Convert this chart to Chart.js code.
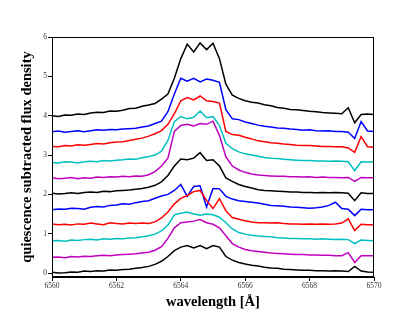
<!DOCTYPE html>
<html>
<head>
<meta charset="utf-8">
<script src="https://cdn.jsdelivr.net/npm/chart.js@4.4.1/dist/chart.umd.min.js"></script>
<style>
  html, body { margin: 0; padding: 0; background: #fff; }
  #wrap { width: 415px; height: 311px; }
</style>
</head>
<body>
<div id="wrap"><canvas id="specChart"></canvas></div>
<script>
  'use strict';

  // wavelength grid (Angstrom)
  var wavelength = [
    6560.0, 6560.2, 6560.4, 6560.6, 6560.8, 6561.0, 6561.2, 6561.4, 6561.6, 6561.8,
    6562.0, 6562.2, 6562.4, 6562.6, 6562.8, 6563.0, 6563.2, 6563.4, 6563.6, 6563.8,
    6564.0, 6564.2, 6564.4, 6564.6, 6564.8, 6565.0, 6565.2, 6565.4, 6565.6, 6565.8,
    6566.0, 6566.2, 6566.4, 6566.6, 6566.8, 6567.0, 6567.2, 6567.4, 6567.6, 6567.8,
    6568.0, 6568.2, 6568.4, 6568.6, 6568.8, 6569.0, 6569.2, 6569.4, 6569.6, 6569.8,
    6570.0
  ];

  // spectra, already shifted up by 0.4 each (bottom to top)
  var flux00 = [0.02, 0.00, 0.01, 0.03, 0.02, 0.05, 0.04, 0.06, 0.05, 0.08, 0.07, 0.09, 0.10, 0.12, 0.14,
    0.17, 0.22, 0.30, 0.42, 0.57, 0.66, 0.70, 0.64, 0.70, 0.62, 0.70, 0.66, 0.42, 0.33, 0.27,
    0.23, 0.20, 0.18, 0.15, 0.13, 0.12, 0.10, 0.09, 0.08, 0.07, 0.07, 0.06, 0.06, 0.05, 0.06,
    0.05, 0.04, 0.17, 0.05, 0.03, 0.02];
  var flux04 = [0.40, 0.41, 0.39, 0.42, 0.41, 0.43, 0.42, 0.44, 0.45, 0.44, 0.46, 0.47, 0.48, 0.49, 0.51,
    0.53, 0.58, 0.67, 0.88, 1.15, 1.28, 1.30, 1.32, 1.36, 1.28, 1.24, 1.15, 0.95, 0.75, 0.66,
    0.60, 0.57, 0.55, 0.53, 0.51, 0.50, 0.49, 0.48, 0.47, 0.47, 0.46, 0.46, 0.45, 0.45, 0.44,
    0.44, 0.52, 0.27, 0.44, 0.44, 0.44];
  var flux08 = [0.82, 0.83, 0.81, 0.84, 0.83, 0.85, 0.86, 0.84, 0.87, 0.86, 0.88, 0.87, 0.89, 0.90, 0.92,
    0.95, 0.99, 1.07, 1.22, 1.48, 1.52, 1.55, 1.50, 1.47, 1.50, 1.48, 1.42, 1.28, 1.12, 1.03,
    0.99, 0.96, 0.94, 0.93, 0.92, 0.90, 0.89, 0.88, 0.88, 0.87, 0.87, 0.86, 0.87, 0.86, 0.85,
    0.86, 0.85, 0.75, 0.84, 0.83, 0.82];
  var flux12 = [1.25, 1.23, 1.24, 1.22, 1.25, 1.24, 1.27, 1.25, 1.23, 1.28, 1.26, 1.25, 1.27, 1.26, 1.27,
    1.26, 1.30, 1.40, 1.55, 1.76, 1.90, 1.97, 2.07, 2.10, 1.84, 1.64, 1.89, 1.58, 1.41, 1.37,
    1.33, 1.30, 1.28, 1.28, 1.27, 1.28, 1.26, 1.25, 1.25, 1.24, 1.25, 1.24, 1.25, 1.24, 1.25,
    1.27, 1.38, 1.08, 1.24, 1.23, 1.23];
  var flux16 = [1.61, 1.63, 1.62, 1.65, 1.64, 1.62, 1.67, 1.69, 1.68, 1.72, 1.73, 1.76, 1.75, 1.79, 1.82,
    1.84, 1.90, 1.96, 2.00, 2.10, 2.25, 1.95, 2.20, 2.22, 1.68, 2.15, 2.14, 1.95, 1.88, 1.84,
    1.82, 1.80, 1.78, 1.75, 1.72, 1.71, 1.70, 1.68, 1.67, 1.66, 1.65, 1.66, 1.68, 1.72, 1.80,
    1.64, 1.62, 1.46, 1.62, 1.61, 1.61];
  var flux20 = [2.03, 2.01, 2.02, 2.04, 2.02, 2.05, 2.06, 2.05, 2.08, 2.07, 2.09, 2.10, 2.11, 2.13, 2.15,
    2.18, 2.23, 2.32, 2.48, 2.72, 2.90, 2.88, 2.92, 3.06, 2.86, 2.88, 2.72, 2.42, 2.33, 2.25,
    2.20, 2.16, 2.12, 2.10, 2.09, 2.08, 2.07, 2.06, 2.06, 2.05, 2.05, 2.04, 2.05, 2.04, 2.05,
    2.04, 2.03, 1.84, 2.04, 2.02, 2.02];
  var flux24 = [2.42, 2.40, 2.41, 2.43, 2.40, 2.42, 2.41, 2.44, 2.43, 2.45, 2.44, 2.46, 2.45, 2.47, 2.46,
    2.50, 2.58, 2.72, 2.92, 3.60, 3.75, 3.78, 3.74, 3.80, 3.78, 3.86, 3.50, 2.95, 2.72, 2.62,
    2.56, 2.52, 2.49, 2.48, 2.47, 2.46, 2.46, 2.45, 2.45, 2.44, 2.45, 2.43, 2.44, 2.43, 2.43,
    2.42, 2.43, 2.33, 2.43, 2.42, 2.42];
  var flux28 = [2.81, 2.80, 2.83, 2.82, 2.80, 2.83, 2.84, 2.83, 2.86, 2.85, 2.87, 2.88, 2.90, 2.89, 2.93,
    2.96, 3.00, 3.10, 3.37, 3.85, 3.98, 3.92, 3.96, 4.12, 3.95, 3.98, 3.75, 3.30, 3.16, 3.08,
    3.03, 3.00, 2.97, 2.94, 2.92, 2.91, 2.89, 2.88, 2.87, 2.86, 2.86, 2.85, 2.85, 2.84, 2.85,
    2.84, 2.83, 2.60, 2.83, 2.82, 2.83];
  var flux32 = [3.22, 3.21, 3.24, 3.23, 3.26, 3.25, 3.27, 3.29, 3.28, 3.31, 3.33, 3.34, 3.37, 3.40, 3.43,
    3.48, 3.54, 3.62, 3.78, 4.05, 4.38, 4.46, 4.40, 4.50, 4.38, 4.36, 4.32, 3.60, 3.52, 3.50,
    3.45, 3.41, 3.36, 3.34, 3.31, 3.30, 3.28, 3.27, 3.25, 3.24, 3.24, 3.23, 3.22, 3.22, 3.21,
    3.21, 3.18, 3.07, 3.47, 3.21, 3.20];
  var flux36 = [3.59, 3.61, 3.58, 3.60, 3.62, 3.59, 3.62, 3.64, 3.63, 3.65, 3.64, 3.66, 3.67, 3.68, 3.71,
    3.74, 3.80, 3.86, 4.10, 4.55, 4.95, 4.88, 4.95, 4.86, 4.93, 4.90, 4.85, 4.15, 3.92, 3.90,
    3.84, 3.80, 3.76, 3.73, 3.71, 3.69, 3.68, 3.66, 3.65, 3.63, 3.64, 3.62, 3.61, 3.62, 3.60,
    3.60, 3.58, 3.42, 3.85, 3.61, 3.60];
  var flux40 = [4.00, 3.98, 4.02, 4.01, 4.04, 4.03, 4.07, 4.09, 4.08, 4.12, 4.11, 4.14, 4.18, 4.19, 4.24,
    4.27, 4.31, 4.42, 4.55, 4.95, 5.45, 5.82, 5.62, 5.85, 5.68, 5.84, 5.45, 4.80, 4.52, 4.44,
    4.38, 4.34, 4.32, 4.28, 4.25, 4.21, 4.19, 4.16, 4.15, 4.13, 4.11, 4.10, 4.08, 4.07, 4.06,
    4.05, 4.20, 3.82, 4.03, 4.04, 4.03];

  var allFlux = [flux00, flux04, flux08, flux12, flux16, flux20, flux24, flux28, flux32, flux36, flux40];
  var lineColors = ['#000000', '#bf00bf', '#00bfbf', '#ff0000', '#0000ff',
                    '#000000', '#bf00bf', '#00bfbf', '#ff0000', '#0000ff', '#000000'];
  var xTicks = [6560, 6562, 6564, 6566, 6568, 6570];
  var yTicks = [0, 1, 2, 3, 4, 5, 6];

  var datasets = [];
  for (var i = 0; i < allFlux.length; i++) {
    var pts = [];
    for (var j = 0; j < wavelength.length; j++) {
      pts.push({ x: wavelength[j], y: allFlux[i][j] });
    }
    datasets.push({
      data: pts,
      borderColor: lineColors[i],
      borderWidth: 1.5,
      pointRadius: 0,
      fill: false,
      tension: 0
    });
  }

  // black box around the plot area
  var frameBox = {
    id: 'frameBox',
    afterDraw: function (chart) {
      var a = chart.chartArea, c = chart.ctx;
      c.save();
      c.strokeStyle = '#000';
      c.lineWidth = 1;
      c.strokeRect(Math.round(a.left) + 0.5, Math.round(a.top) + 0.5,
                   Math.round(a.right - a.left) - 1, Math.round(a.bottom - a.top) - 1);
      c.restore();
    }
  };

  var tickFont = { family: 'Liberation Serif', size: 7.5 };
  var titleFont = { family: 'Liberation Serif', size: 14.5, weight: 'bold' };
  var plainLabel = function (v) { return String(v); };

  new Chart(document.getElementById('specChart').getContext('2d'), {
    type: 'line',
    data: { datasets: datasets },
    options: {
      responsive: true,
      maintainAspectRatio: false,
      animation: false,
      layout: { padding: { top: 37, right: 41, left: 0, bottom: 0 } },
      plugins: { legend: { display: false }, tooltip: { enabled: false } },
      scales: {
        x: {
          type: 'linear',
          min: 6560,
          max: 6570,
          afterBuildTicks: function (s) { s.ticks = xTicks.map(function (v) { return { value: v }; }); },
          afterFit: function (s) { s.height = 34; },
          grid: { display: true, drawOnChartArea: false, drawTicks: true, tickLength: 4, color: '#000' },
          border: { display: true, color: '#000' },
          ticks: { font: tickFont, color: '#333', padding: 1, maxRotation: 0, callback: plainLabel },
          title: { display: true, text: 'wavelength [Å]', font: titleFont, color: '#000', padding: { top: 0, bottom: 0 } }
        },
        y: {
          type: 'linear',
          min: -0.1,
          max: 6,
          afterBuildTicks: function (s) { s.ticks = yTicks.map(function (v) { return { value: v }; }); },
          afterFit: function (s) { s.width = 52; },
          grid: { display: true, drawOnChartArea: false, drawTicks: true, tickLength: 4, color: '#000' },
          border: { display: true, color: '#000' },
          ticks: { font: tickFont, color: '#333', padding: 1, callback: plainLabel },
          title: { display: true, text: 'quiescence subtracted flux density', font: titleFont, color: '#000', padding: { top: 19, bottom: 0 } }
        }
      }
    },
    plugins: [frameBox]
  });
</script>
</body>
</html>
